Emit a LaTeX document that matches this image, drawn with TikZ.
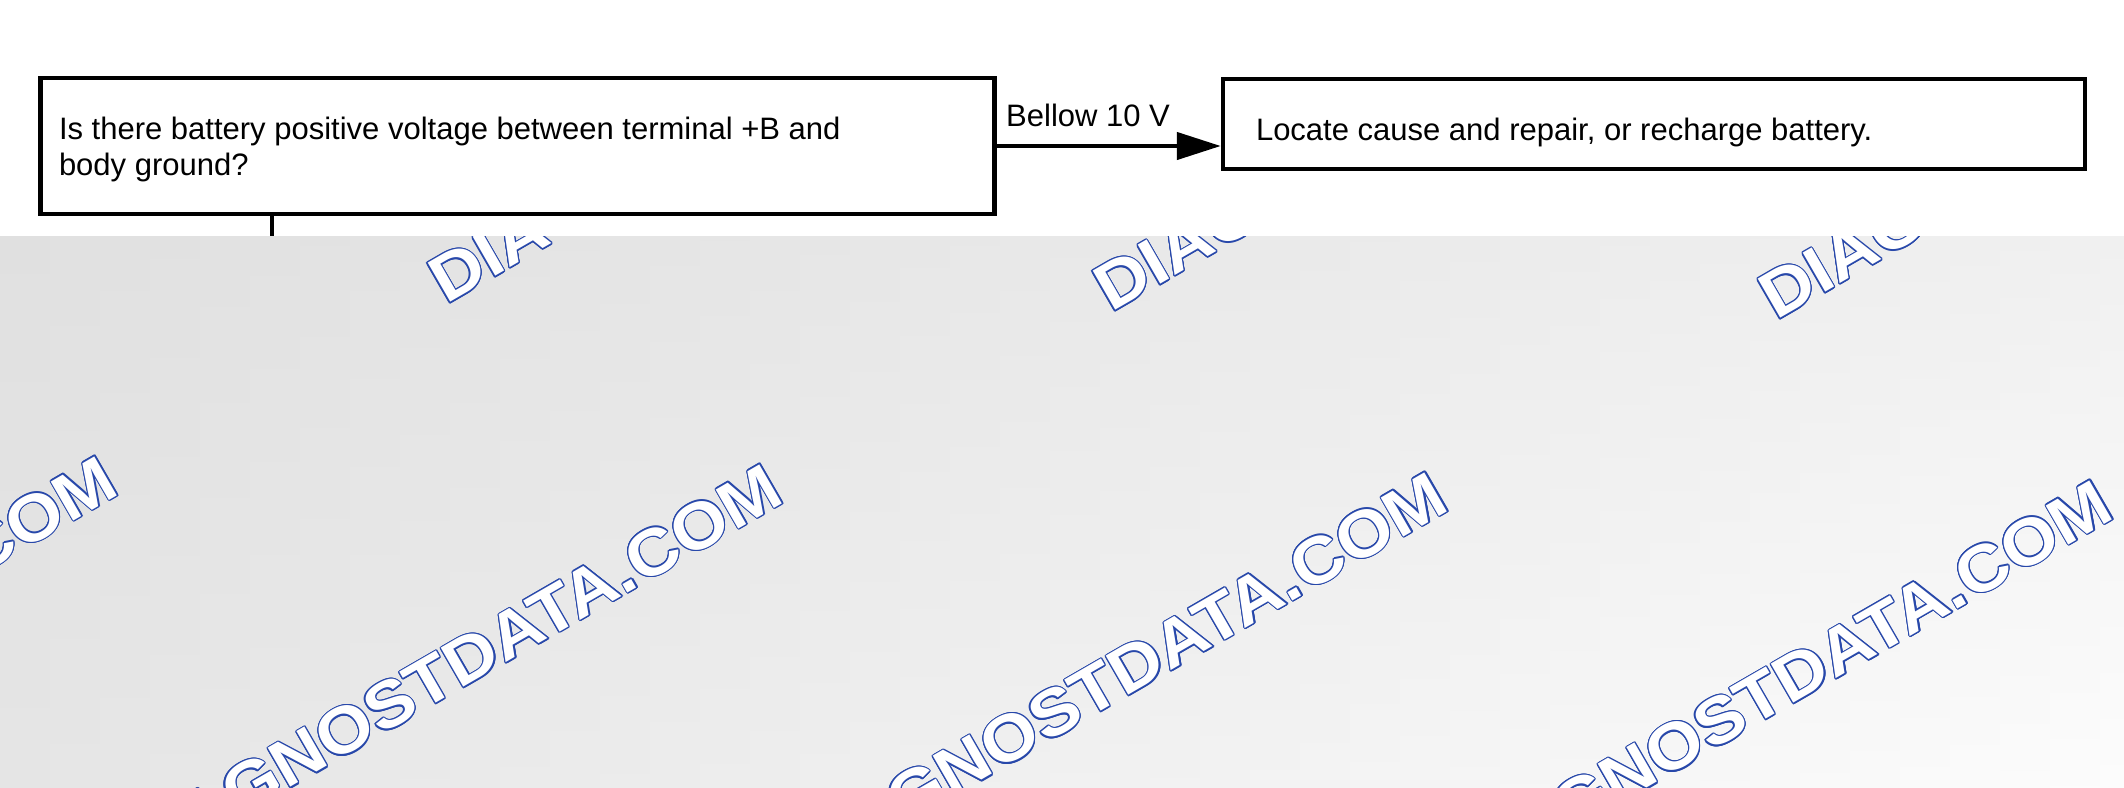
\documentclass[tikz,border=0pt]{standalone}
\usepackage{fontspec}
\setmainfont{Liberation Sans}
\newfontfamily\wmfont{Liberation Sans}[FakeStretch=1.1]
\usetikzlibrary{arrows.meta,calc}
\definecolor{wmblue}{RGB}{40,72,170}
\definecolor{gTL}{RGB}{224,224,224}
\definecolor{gTR}{RGB}{240,240,240}
\definecolor{gBL}{RGB}{229,229,229}
\definecolor{gBR}{RGB}{252,252,252}
\newcommand\wmark[2]{%
  \foreach \a in {0,22.5,...,337.5}{\node[wmtext,text=wmblue,anchor=#2] at ($(#1)+(\a:1.2)$) {DIAGNOSTDATA.COM};}%
  \node[wmtext,text=white,anchor=#2] at (#1) {DIAGNOSTDATA.COM};}
\begin{document}
\begin{tikzpicture}[x=1pt,y=-1pt,
  box/.style={draw=black, line width=4.5pt, rectangle, inner ysep=0pt, font=\fontsize{31}{36.5}\selectfont},
  conn/.style={line width=4.5pt},
  lbl/.style={inner sep=0pt, font=\fontsize{31}{35}\selectfont},
  wmtext/.style={font=\wmfont\fontsize{65.5}{65.5}\selectfont\bfseries, rotate=30, inner sep=0pt}]
\useasboundingbox (0,0) rectangle (2124,787);
% grey background
\foreach \i in {0,...,42}{
  \pgfmathtruncatemacro\p{min(100,round((\i*50+25)/21.24))}
  \shade[top color=gTR!\p!gTL, bottom color=gBR!\p!gBL] (\i*50,236) rectangle (\i*50+51,787);
}
% watermarks
\begin{scope}
  \clip (0,236) rectangle (2124,787);
  \wmark{446,305}{base west}
  \wmark{1111,313}{base west}
  \wmark{1776,321}{base west}
  \wmark{122,493}{base east}
  \wmark{787,501}{base east}
  \wmark{1452,509}{base east}
  \wmark{2117,517}{base east}
\end{scope}
\fill[white] (0,0) rectangle (2124,236);
% flowchart
\node[box, minimum width=954pt, minimum height=136pt, inner xsep=18.5pt, text height=22pt, text depth=36pt] (q) at (517.5,146)
  {\parbox[t]{917pt}{\raggedright Is there battery positive voltage between terminal +B and\\ body ground?}};
\node[box, minimum width=862pt, minimum height=90pt, inner xsep=33pt, text height=36pt, text depth=3pt] (r) at (1654,124)
  {\makebox[796pt][l]{Locate cause and repair, or recharge battery.}};
\draw[conn, -{Triangle[length=44pt,width=27pt]}] (q.east) -- (q.east -| r.west);
\node[lbl, anchor=base west] (bl) at (1006,126) {Bellow 10 V};
\coordinate (vend) at (272,236);
\draw[conn, line width=4pt] (q.south -| vend) -- (vend);
\end{tikzpicture}
\end{document}
